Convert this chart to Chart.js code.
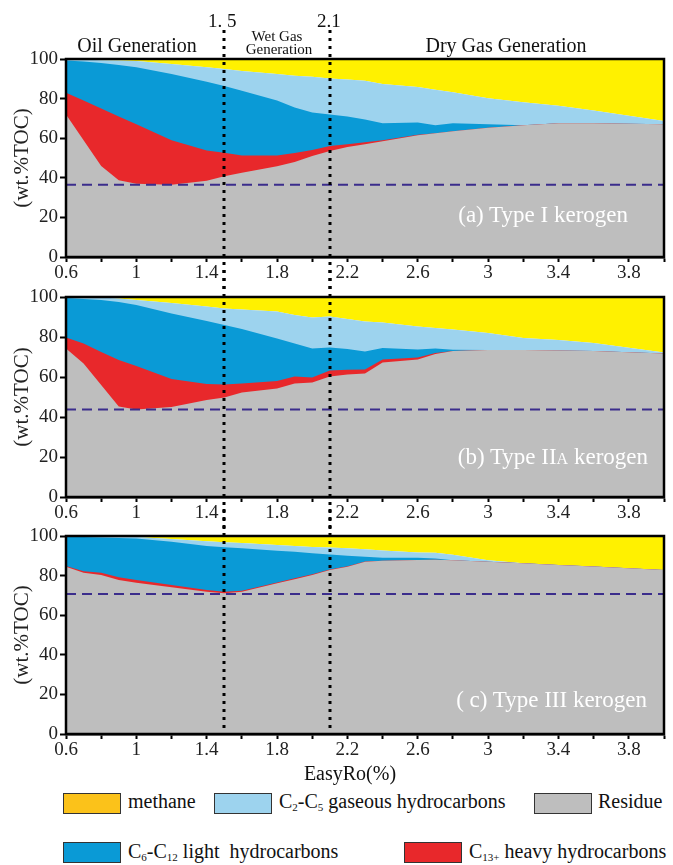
<!DOCTYPE html>
<html>
<head>
<meta charset="utf-8">
<script src="https://cdn.jsdelivr.net/npm/chart.js@4.4.1/dist/chart.umd.min.js"></script>
<style>
  html, body { margin: 0; padding: 0; background: #fff; }
  #wrap { position: relative; width: 673px; height: 865px; overflow: hidden;
          font-family: "Liberation Serif", "DejaVu Serif", serif; color: #111; }
  #wrap canvas { position: absolute; left: 0; }
  .t { position: absolute; line-height: 1; white-space: nowrap; }
  .lab { color: #fff; font-size: 23px; text-align: right; }
  .sw { position: absolute; width: 56px; height: 19px; border: 1.5px solid #333; }
  .lg { font-size: 20px; }
  .lg sub { font-size: 11px; vertical-align: -3px; line-height: 0; }
</style>
</head>
<body>
<div id="wrap">
  <canvas id="cA" width="673" height="290" style="top:0px"></canvas>
  <canvas id="cB" width="673" height="260" style="top:270px"></canvas>
  <canvas id="cC" width="673" height="265" style="top:509px"></canvas>

  <!-- stage headings -->
  <div class="t" style="left:208px;top:11px;font-size:19px">1. 5</div>
  <div class="t" style="left:317px;top:11px;font-size:19px">2.1</div>
  <div class="t" style="left:277px;top:29px;font-size:15px;transform:translateX(-50%)">Wet Gas</div>
  <div class="t" style="left:279px;top:42px;font-size:15px;transform:translateX(-50%)">Generation</div>
  <div class="t" style="left:137px;top:35px;font-size:20px;transform:translateX(-50%)">Oil Generation</div>
  <div class="t" style="left:506px;top:35px;font-size:20px;transform:translateX(-50%)">Dry Gas Generation</div>

  <!-- panel labels -->
  <div class="t lab" style="right:45px;top:203px">(a) Type I kerogen</div>
  <div class="t lab" style="right:25px;top:445px">(b) Type II<span style="font-size:16px">A</span> kerogen</div>
  <div class="t lab" style="right:26px;top:688px">( c) Type III kerogen</div>

  <div class="t" style="left:350px;top:763px;font-size:20px;transform:translateX(-50%)">EasyRo(%)</div>

  <!-- legend -->
  <div class="sw" style="left:63px;top:793px;background:#FBC21A"></div>
  <div class="t lg" style="left:128px;top:791px">methane</div>
  <div class="sw" style="left:214px;top:793px;background:#9DD3EE"></div>
  <div class="t lg" style="left:279px;top:791px">C<sub>2</sub>-C<sub>5</sub> gaseous hydrocarbons</div>
  <div class="sw" style="left:534px;top:793px;background:#BEBEBE"></div>
  <div class="t lg" style="left:598px;top:791px">Residue</div>
  <div class="sw" style="left:63px;top:842px;background:#0A9AD6"></div>
  <div class="t lg" style="left:128px;top:841px">C<sub>6</sub>-C<sub>12</sub> light&nbsp; hydrocarbons</div>
  <div class="sw" style="left:404px;top:842px;background:#E8282B"></div>
  <div class="t lg" style="left:469px;top:841px">C<sub>13+</sub> heavy hydrocarbons</div>
</div>

<script>
// EasyRo (%) sample points shared by all three panels
const RO = [0.6, 0.7, 0.8, 0.9, 1.0, 1.2, 1.4, 1.5, 1.6, 1.8, 1.9, 2.0,
            2.1, 2.2, 2.3, 2.4, 2.6, 2.7, 2.8, 3.0, 3.2, 3.4, 3.6, 4.0];
const STAGE_BOUNDS = [1.5, 2.1];

// cumulative tops (wt.%TOC): residue, +C13+, +C6-C12, +C2-C5 ; methane fills to 100
const A_RESIDUE = [72, 59, 46, 38.7, 37, 36.5, 38.5, 40.8, 42.5, 45.8, 48, 51,
                   53.5, 55.5, 57, 58.5, 61.5, 62.5, 63.5, 65.3, 66.5, 67.5, 67.5, 67];
const A_HEAVY   = [83, 79, 75, 71, 67, 59, 53.8, 52.6, 51.3, 51.3, 52.5, 54,
                   56, 57, 58, 59, 61.8, 62.5, 63.5, 65.3, 66.5, 67.5, 67.5, 67];
const A_LIGHT   = [99.3, 98.8, 98, 97, 95.8, 92.4, 88.5, 86.4, 84, 79, 75.5, 73,
                   72, 71, 69.5, 67.5, 67.9, 66.5, 67.5, 67, 66.5, 67.5, 67.5, 67];
const A_GAS     = [100, 99.8, 99.4, 99.2, 99, 97.5, 95.8, 94.9, 94, 92.4, 91.5, 91,
                   90.2, 89.7, 89, 87.4, 85.8, 84.5, 83.2, 80.2, 78.2, 76.4, 74, 68.7];

const B_RESIDUE = [74.3, 66.8, 56, 45.2, 43.8, 45, 48.5, 49.8, 52.2, 54.3, 56.8, 57.2,
                   60.2, 61.2, 61.7, 67.2, 68.7, 71.5, 73, 73.5, 73.5, 73.3, 73, 71.8];
const B_HEAVY   = [79.7, 76.8, 72.5, 68.5, 65.5, 59, 56.5, 56.3, 56.8, 58, 60.2, 59.8,
                   63.2, 63.6, 63.8, 68.7, 69.7, 72, 73, 73.5, 73.5, 73.3, 73, 71.8];
const B_LIGHT   = [99.5, 99, 98.5, 97.5, 96, 91.8, 88, 86, 84, 79.3, 76.8, 74.3,
                   74.7, 74, 72.7, 74.5, 73.8, 74.3, 73.6, 73.5, 73.5, 73.3, 73, 71.8];
const B_GAS     = [100, 99.9, 99.7, 99.3, 98.5, 97, 95.2, 94.3, 93.8, 92.7, 91, 89.8,
                   90.2, 89, 87.8, 87.2, 85.3, 84.5, 83.7, 82, 79.5, 78.5, 77, 72.2];

const C_RESIDUE = [84.5, 81.5, 80.3, 77.8, 76.4, 74.1, 71.9, 71.1, 71.9, 76.1, 78.2, 80.3,
                   82.8, 84.5, 87, 87.5, 87.9, 88, 87.8, 87, 86.3, 85.4, 84.6, 82.8];
const C_HEAVY   = [84.8, 82.2, 81.4, 79.2, 77.8, 75.3, 72.7, 71.9, 72.3, 76.5, 78.6, 80.7,
                   83.1, 84.7, 87.1, 87.5, 87.9, 88, 87.8, 87, 86.3, 85.4, 84.6, 82.8];
const C_LIGHT   = [99.7, 99.5, 99.2, 99, 98.8, 97.1, 95, 94.3, 93.8, 92.6, 92, 91.3,
                   90.7, 90, 89.5, 89, 89, 88.6, 87.8, 87, 86.3, 85.4, 84.6, 82.8];
const C_GAS     = [100, 100, 99.9, 99.8, 99.5, 98.5, 97.3, 96.8, 96.5, 95.5, 95, 94.5,
                   94.2, 93.8, 93.3, 92.7, 91.7, 91.5, 90.5, 87.8, 86.3, 85.4, 84.6, 82.8];

// minimum residue level marked by the dashed line
const MIN_RESIDUE = [36.5, 43.8, 70.7];

const YELLOW = "#FFF100", LBLUE = "#9DD3EE", BLUE = "#0A9AD6", RED = "#E8282B", GRAY = "#BEBEBE";
const SERIF = '"Liberation Serif", "DejaVu Serif", serif';

// plot frame on top/right + dotted stage boundaries running through the panels
const framePlugin = {
  id: "frame",
  afterDatasetsDraw(chart) {
    const { ctx, chartArea: a } = chart;
    ctx.save();
    ctx.strokeStyle = "#000"; ctx.lineWidth = 2.5;
    ctx.strokeRect(a.left, a.top, a.right - a.left, a.bottom - a.top);
    ctx.restore();
  },
  afterDraw(chart, args, opts) {
    const { ctx } = chart;
    ctx.save();
    ctx.strokeStyle = "#000"; ctx.lineWidth = 3; ctx.setLineDash([3, 5]);
    for (const v of STAGE_BOUNDS) {
      const x = Math.round(chart.scales.x.getPixelForValue(v));
      ctx.beginPath(); ctx.moveTo(x, opts.y0); ctx.lineTo(x, opts.y1); ctx.stroke();
    }
    ctx.restore();
  },
};

function makePanel(id, tops, minRes, padTop, axisH, y0, y1) {
  const pts = (arr) => RO.map((x, i) => ({ x, y: arr[i] }));
  const area = (arr, color, order, fill) => ({
    data: pts(arr), fill: fill || "origin", backgroundColor: color,
    borderWidth: 0, pointRadius: 0, order,
  });
  const [res, heavy, light, gas] = tops;
  new Chart(document.getElementById(id), {
    type: "line",
    data: {
      datasets: [
        { data: [{ x: RO[0], y: minRes }, { x: RO[RO.length - 1], y: minRes }],
          borderColor: "#3b2d8c", borderWidth: 2, borderDash: [10, 6],
          pointRadius: 0, fill: false, order: 0 },
        area(res, GRAY, 1), area(heavy, RED, 2), area(light, BLUE, 3),
        area(gas, LBLUE, 4), area(gas, YELLOW, 5, "end"),
      ],
    },
    options: {
      responsive: false, animation: false, devicePixelRatio: 1,
      layout: { padding: { top: padTop, left: 0, right: 9, bottom: 0 } },
      plugins: { legend: { display: false }, tooltip: { enabled: false },
                 frame: { y0, y1 } },
      scales: {
        x: {
          type: "linear", min: 0.6, max: 4.0,
          afterFit: (s) => { s.height = axisH; },
          grid: { drawOnChartArea: false, drawTicks: true, tickLength: 5, tickWidth: 2, tickColor: "#000" },
          border: { display: true, color: "#000", width: 2.5 },
          ticks: {
            stepSize: 0.2, autoSkip: false, maxRotation: 0, padding: 0,
            color: "#222", font: { family: SERIF, size: 19 },
            callback: (v, i) => (i % 2 === 0 ? String(Number(v.toFixed(1))) : ""),
          },
        },
        y: {
          min: 0, max: 100,
          afterFit: (s) => { s.width = 66; },
          grid: { drawOnChartArea: false, drawTicks: true, tickLength: 6, tickWidth: 2, tickColor: "#000" },
          border: { display: true, color: "#000", width: 2.5 },
          ticks: {
            stepSize: 10, padding: 2, color: "#222", font: { family: SERIF, size: 19 },
            callback: (v) => (v % 20 === 0 ? v : ""),
          },
          title: { display: true, text: "(wt.%TOC)", color: "#222",
                   font: { family: SERIF, size: 21 }, padding: { top: 10, bottom: 0 } },
        },
      },
    },
    plugins: [framePlugin],
  });
}

makePanel("cA", [A_RESIDUE, A_HEAVY, A_LIGHT, A_GAS], MIN_RESIDUE[0], 59, 33, 30, 290);
makePanel("cB", [B_RESIDUE, B_HEAVY, B_LIGHT, B_GAS], MIN_RESIDUE[1], 27, 33, 0, 260);
makePanel("cC", [C_RESIDUE, C_HEAVY, C_LIGHT, C_GAS], MIN_RESIDUE[2], 27, 40, 0, 219);
</script>
</body>
</html>
